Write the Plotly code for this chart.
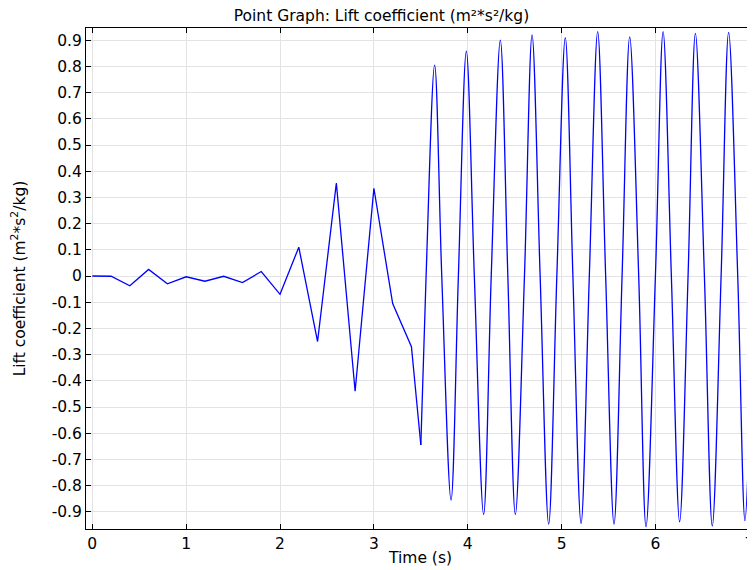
import plotly.graph_objects as go

# Early transient (linear segments between solver outputs)
t_early = [0.0, 0.2, 0.4, 0.6, 0.8, 1.0, 1.2, 1.4, 1.6, 1.8, 2.0, 2.2, 2.4, 2.6, 2.8, 3.0, 3.2, 3.4, 3.5]
cl_early = [0.0, -0.001, -0.037, 0.025, -0.030, -0.003, -0.020, -0.001, -0.025, 0.017,
            -0.070, 0.110, -0.250, 0.355, -0.440, 0.335, -0.105, -0.270, -0.645]

# Periodic vortex shedding regime (peaks, zero crossings, troughs)
t_osc = [3.5, 3.556, 3.647, 3.723, 3.822, 3.900, 3.985, 4.070, 4.169, 4.250, 4.347, 4.427, 4.507,
         4.604, 4.685, 4.771, 4.862, 4.949, 5.039, 5.120, 5.207, 5.295, 5.384, 5.469, 5.558,
         5.644, 5.725, 5.821, 5.899, 5.999, 6.081, 6.169, 6.257, 6.347, 6.425, 6.521, 6.605,
         6.699, 6.779, 6.876, 6.953, 7.0]
cl_osc = [-0.645, 0.0, 0.805, 0.0, -0.855, 0.0, 0.858, 0.0, -0.910, 0.0, 0.900, 0.0, -0.910,
          0.0, 0.920, 0.0, -0.947, 0.0, 0.910, 0.0, -0.944, 0.0, 0.933, 0.0, -0.947,
          0.0, 0.913, 0.0, -0.957, 0.0, 0.933, 0.0, -0.938, 0.0, 0.926, 0.0, -0.954,
          0.0, 0.930, 0.0, -0.934, -0.585]

x_ticks = [0, 1, 2, 3, 4, 5, 6, 7]
y_ticks = [0.9, 0.8, 0.7, 0.6, 0.5, 0.4, 0.3, 0.2, 0.1, 0.0,
           -0.1, -0.2, -0.3, -0.4, -0.5, -0.6, -0.7, -0.8, -0.9]
y_labels = ["0.9", "0.8", "0.7", "0.6", "0.5", "0.4", "0.3", "0.2", "0.1", "0",
            "-0.1", "-0.2", "-0.3", "-0.4", "-0.5", "-0.6", "-0.7", "-0.8", "-0.9"]

FONT = "DejaVu Sans"
FS = 15.5
# page body has an 8px default margin, so the figure is 8px smaller than the window
W, H = 747, 562

fig = go.Figure()
fig.add_trace(go.Scatter(x=t_early, y=cl_early, mode="lines",
                         line=dict(color="#0000ff", width=1.3), showlegend=False))
fig.add_trace(go.Scatter(x=t_osc, y=cl_osc, mode="lines",
                         line=dict(color="#0000ff", width=1.3, shape="spline", smoothing=1.0),
                         showlegend=False))

axis_common = dict(
    showline=True, linecolor="#000000", linewidth=1, mirror="ticks",
    ticks="inside", ticklen=5, tickcolor="#000000", tickwidth=1,
    showgrid=True, gridcolor="#e3e3e3", gridwidth=1,
    zeroline=False, automargin=False,
    tickfont=dict(family=FONT, size=FS, color="#000000"),
)

fig.update_layout(
    width=W, height=H,
    paper_bgcolor="white", plot_bgcolor="white",
    margin=dict(l=78, r=0, t=20, b=41, autoexpand=False),
    font=dict(family=FONT, size=FS, color="#000000"),
    title=dict(text="Point Graph: Lift coefficient (m²*s²/kg)",
               x=0.5, xref="container", xanchor="center", y=1 - 8 / H, yref="container",
               yanchor="middle",
               font=dict(family=FONT, size=FS, color="#000000")),
    xaxis=dict(axis_common, range=[-0.067, 7.06], tickvals=x_ticks,
               title=dict(text="Time (s)", standoff=0, font=dict(family=FONT, size=FS))),
    yaxis=dict(axis_common, range=[-0.9656, 0.9466], tickvals=y_ticks, ticktext=y_labels,
               title=dict(text="Lift coefficient (m<sup>2</sup>*s<sup>2</sup>/kg)", standoff=28,
                          font=dict(family=FONT, size=FS))),
)

fig.write_html("out.html")
